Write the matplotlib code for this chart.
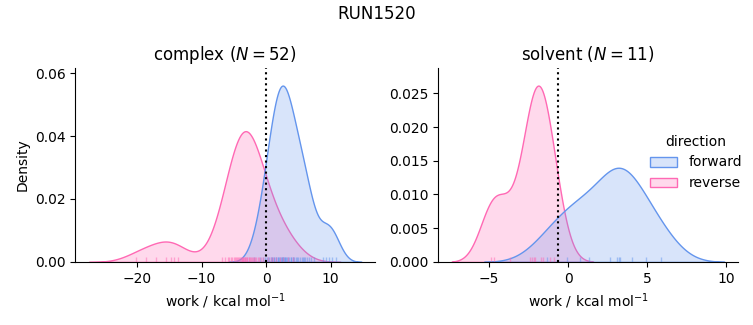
import numpy as np
import pandas as pd
import matplotlib
matplotlib.use("Agg")
import matplotlib.pyplot as plt
import seaborn as sns

# work values (kcal/mol)
complex_forward = [-1.8, -1.0, -0.5, -0.2, 0.1, 0.3, 0.5, 0.7, 0.9, 1.0,
                   1.2, 1.3, 1.5, 1.6, 1.8, 1.9, 2.0, 2.1, 2.3, 2.4,
                   2.5, 2.6, 2.7, 2.8, 2.9, 3.0, 3.1, 3.3, 3.4, 3.6,
                   3.8, 3.9, 4.1, 4.2, 4.4, 4.6, 4.8, 5.0, 5.2, 5.5,
                   5.7, 5.9, 6.1, 6.4, 6.6, 6.9, 7.4,
                   8.9, 9.3, 9.7, 10.2, 10.8]
complex_reverse = [-20.1, -18.6, -17.0, -15.5, -14.8, -14.2, -13.6,
                   -6.9, -6.3, -5.9, -5.7, -5.4, -5.2, -5.0, -4.8, -4.7, -4.5,
                   -4.3, -4.2, -4.1, -3.9, -3.8, -3.7, -3.6, -3.5, -3.4, -3.3,
                   -3.2, -3.1, -3.0, -2.9, -2.7, -2.6, -2.5, -2.4, -2.2, -2.0,
                   -1.9, -1.7, -1.5, -1.3, -1.1, -0.8, -0.5, 0.3, 0.7, 1.1,
                   1.6, 2.1, 2.7, 3.4, 4.2]
solvent_forward = [-1.3, -0.04, 0.77, 1.3, 2.68, 3.10, 3.21, 3.32, 4.06, 4.96, 5.88]
solvent_reverse = [-4.88, -4.67, -3.67, -2.39, -2.28, -2.17, -2.07, -1.71, -1.58, -1.17, -0.90]

# free energy estimate (dotted line)
dg = {"complex": 0.0, "solvent": -0.64}

rows = []
for phase, direction, vals in [("complex", "forward", complex_forward),
                               ("complex", "reverse", complex_reverse),
                               ("solvent", "forward", solvent_forward),
                               ("solvent", "reverse", solvent_reverse)]:
    for v in vals:
        rows.append((phase, direction, v))
df = pd.DataFrame(rows, columns=["phase", "direction", "work"])

pal = {"forward": "cornflowerblue", "reverse": "hotpink"}

g = sns.displot(data=df, x="work", hue="direction", col="phase", kind="kde",
                fill=True, rug=True, palette=pal, rug_kws=dict(alpha=0.5),
                facet_kws=dict(sharex=False, sharey=False))
g.figure.set_size_inches(7.53, 3.25)
g.figure.subplots_adjust(left=0.1, right=0.98, bottom=0.194, top=0.791, wspace=0.21)

for ax, phase in zip(g.axes.flat, ["complex", "solvent"]):
    n = len(df[(df.phase == phase) & (df.direction == "forward")])
    ax.set_title(f"{phase} ($N={n}$)")
    ax.axvline(dg[phase], color="k", ls=":")
    ax.set_xlabel("work / kcal mol$^{-1}$")
g.axes.flat[0].set_ylabel("Density")

sns.move_legend(g, "center left", bbox_to_anchor=(0.846, 0.50))
g.figure.suptitle("RUN1520", y=0.985)

g.figure.savefig("out.png", dpi=100)
